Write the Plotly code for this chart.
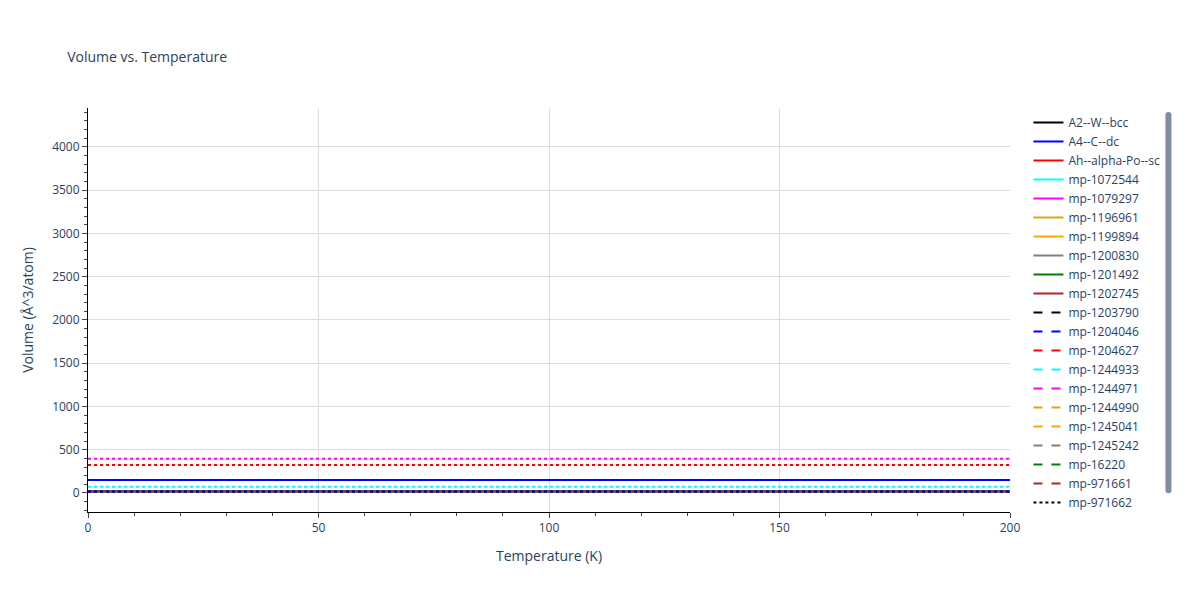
import plotly.graph_objects as go

temps = list(range(0, 201, 10))
names = ["A2--W--bcc","A4--C--dc","Ah--alpha-Po--sc","mp-1072544","mp-1079297","mp-1196961",
         "mp-1199894","mp-1200830","mp-1201492","mp-1202745","mp-1203790","mp-1204046",
         "mp-1204627","mp-1244933","mp-1244971","mp-1244990","mp-1245041","mp-1245242",
         "mp-16220","mp-971661","mp-971662","mp-999200","mp-999201","mp-999202","mp-999203"]
volumes = [16.5, 150.0, 24.0, 20.0, 19.0, 18.0, 18.5, 19.5, 18.0, 19.0, 17.5, 18.0,
           19.0, 20.0, 19.0, 18.5, 18.0, 19.0, 17.0, 18.0, 17.0, 18.0, 322.0, 72.0, 395.0]
colors = ["black","blue","red","cyan","magenta","goldenrod","orange","gray","green","brown"]
dashes = ["solid","dash","dot"]

fig = go.Figure()
for i, (n, v) in enumerate(zip(names, volumes)):
    fig.add_trace(go.Scatter(x=temps, y=[v]*len(temps), mode="lines", name=n,
                             showlegend=i < 22,
                             line=dict(color=colors[i % 10], dash=dashes[i // 10], width=2)))

fig.update_layout(
    template="plotly_white",
    font=dict(family="Open Sans, sans-serif", color="#2a3f5f"),
    title=dict(text="Volume vs. Temperature", x=0.05, y=0.925, font=dict(size=14)),
    xaxis=dict(title="Temperature (K)", range=[0, 200], showline=True, linecolor="black",
               gridcolor="#dddddd", ticks="outside", minor=dict(ticks="outside", dtick=10),
               zeroline=False),
    yaxis=dict(title="Volume (Å^3/atom)", range=[-220, 4450], showline=True, linecolor="black",
               gridcolor="#dddddd", ticks="outside", dtick=500,
               minor=dict(ticks="outside", dtick=100), zeroline=False),
    legend=dict(x=1.02, y=1.0),
    margin=dict(l=80, r=182, t=100, b=80),
)
fig.write_html("out.html")
